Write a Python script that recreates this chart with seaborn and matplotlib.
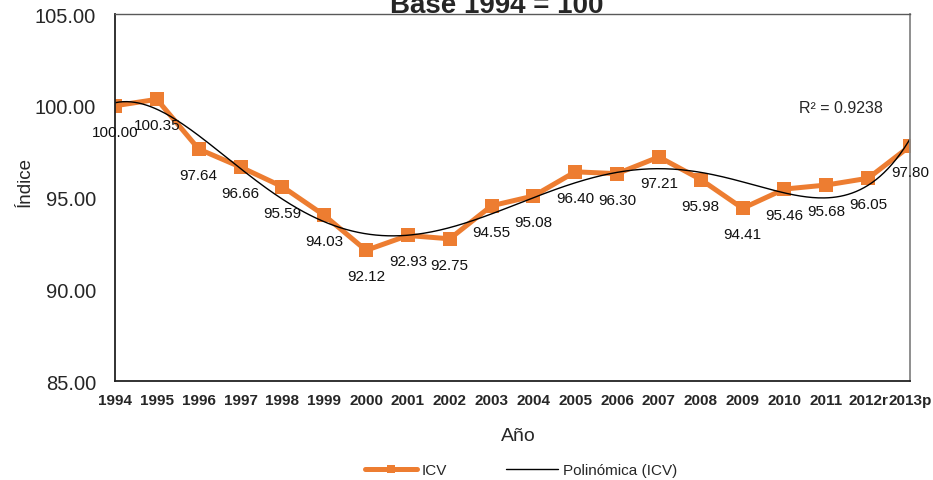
import numpy as np
import pandas as pd
import matplotlib
matplotlib.use("Agg")
import matplotlib.pyplot as plt
import seaborn as sns

# data
years = ["1994", "1995", "1996", "1997", "1998", "1999", "2000", "2001", "2002", "2003",
         "2004", "2005", "2006", "2007", "2008", "2009", "2010", "2011", "2012r", "2013p"]
icv = [100.00, 100.35, 97.64, 96.66, 95.59, 94.03, 92.12, 92.93, 92.75, 94.55,
       95.08, 96.40, 96.30, 97.21, 95.98, 94.41, 95.46, 95.68, 96.05, 97.80]
r2_label = "R² = 0.9238"

sns.set_style("white")
plt.rcParams["font.family"] = ["Liberation Sans", "DejaVu Sans"]

df = pd.DataFrame({"pos": np.arange(len(years)), "year": years, "ICV": icv})

# polynomial trend, order 5 (this order gives the R² shown on the chart)
coef = np.polyfit(df["pos"] + 1, df["ICV"], 5)
xs = np.linspace(0, len(years) - 1, 400)
trend = pd.DataFrame({"pos": xs, "fit": np.polyval(coef, xs + 1)})

fig = plt.figure(figsize=(9.33, 4.81), dpi=100)
ax = fig.add_axes([0.1233, 0.2058, 0.852, 0.763])

orange = "#ED7D31"
sns.lineplot(data=df, x="pos", y="ICV", ax=ax, color=orange, lw=3.6,
             marker="s", markersize=10.5, markeredgewidth=0, label="ICV")
sns.lineplot(data=trend, x="pos", y="fit", ax=ax, color="black", lw=1.0,
             label="Polinómica (ICV)")

for _, row in df.iterrows():
    ax.annotate(f"{row['ICV']:.2f}", (row["pos"], row["ICV"]), xytext=(0, -26),
                textcoords="offset pixels", ha="center", va="center",
                fontsize=11, color="#111111")

ax.text(17.35, 99.93, r2_label, ha="center", va="center", fontsize=11.5)

ax.set_xlim(0, len(years) - 1)
ax.set_ylim(85, 105)
ax.set_yticks([85, 90, 95, 100, 105])
ax.set_yticklabels([f"{v:.2f}" for v in [85, 90, 95, 100, 105]], fontsize=14.5)
ax.set_xticks(df["pos"])
ax.set_xticklabels(years, fontsize=11, fontweight="bold")
ax.tick_params(axis="y", direction="inout", length=9.5, width=1, color="#333333", pad=9)
ax.tick_params(axis="x", direction="inout", length=9.5, width=1, color="#333333", pad=4)
ax.set_xlabel("")
ax.set_ylabel("")

for side in ["left", "bottom"]:
    ax.spines[side].set_color("#222222")
    ax.spines[side].set_linewidth(1.3)
ax.spines["top"].set_color("#595959")
ax.spines["right"].set_color("#868686")
ax.spines["top"].set_linewidth(1.0)
ax.spines["right"].set_linewidth(1.3)

ax.get_legend().remove()
handles, labels = ax.get_legend_handles_labels()
fig.legend(handles, labels, loc="center", bbox_to_anchor=(521 / 933, 0.021),
           ncol=2, frameon=False, fontsize=11, handlelength=3.4,
           handletextpad=0.3, columnspacing=3.9, markerscale=0.6)

# title sits partly above the figure edge, as in the original
fig.text(497 / 933, 0.973, "Base 1994 = 100", ha="center", va="baseline",
         fontsize=20, fontweight="bold")
fig.text(518 / 933, 1 - 437 / 481, "Año", ha="center", va="center", fontsize=14)
fig.text(25 / 933, 1 - 182 / 481, "Índice", ha="center", va="center",
         rotation=90, fontsize=13.5)

fig.savefig("out.png", dpi=100)
